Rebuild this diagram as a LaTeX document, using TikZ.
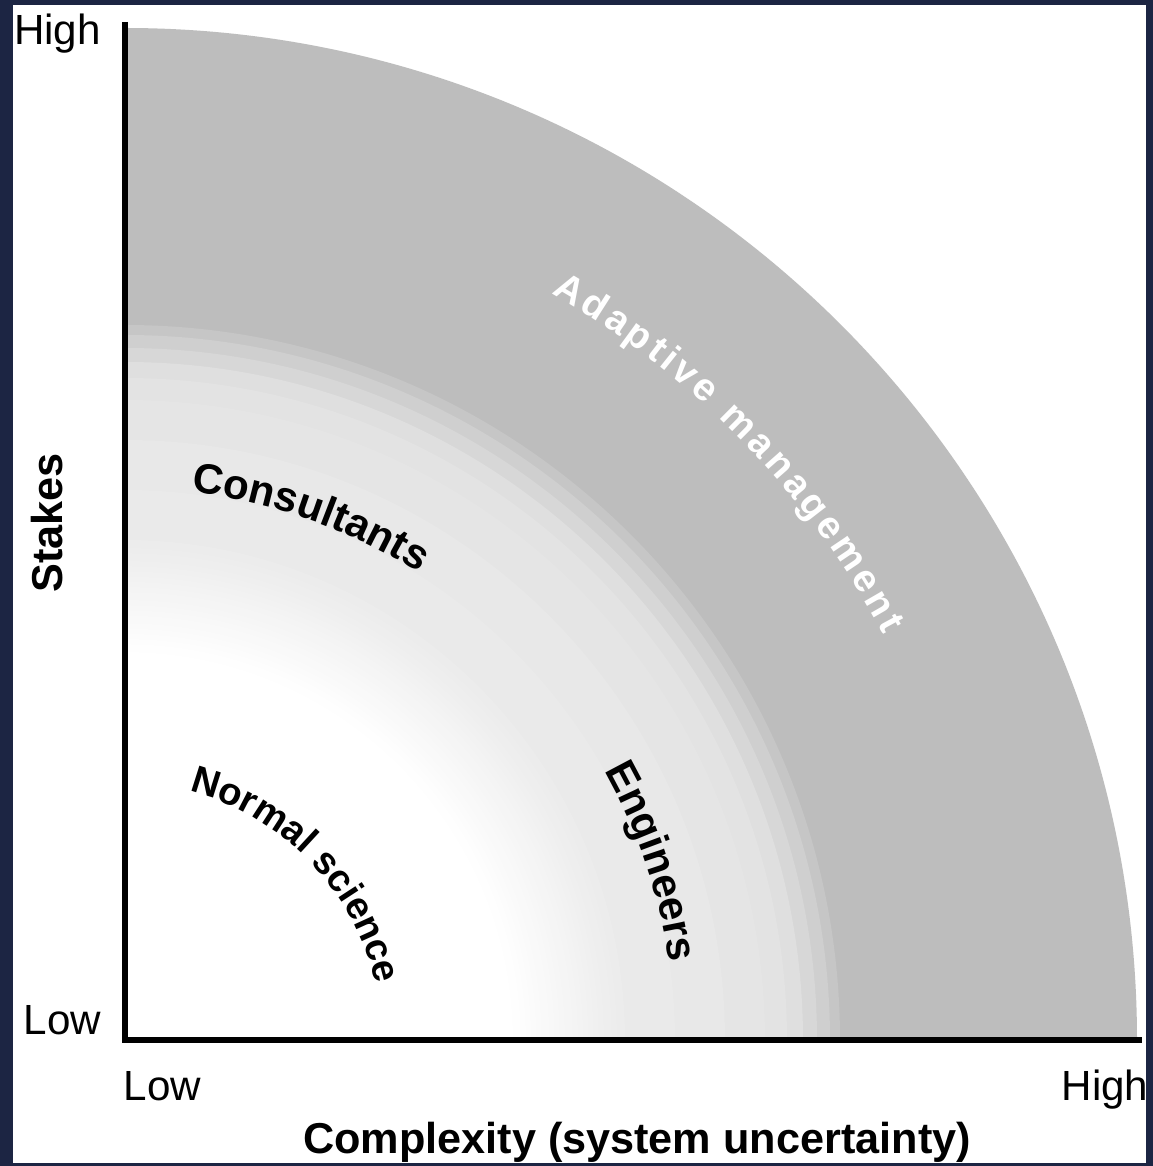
\documentclass[tikz,border=0pt]{standalone}
\usepackage{fontspec}
\setmainfont{Liberation Sans}
\usetikzlibrary{decorations.text}

\definecolor{FrameNavy}{HTML}{1C2543}
\definecolor{OuterGray}{HTML}{BDBDBD}

\newcommand{\zonefont}{\fontsize{12}{14}\selectfont\bfseries}
\newcommand{\adaptfont}{\fontsize{11}{13}\selectfont\bfseries}
% quarter disc of radius #2 round the origin, filled with #1
\newcommand{\qdisc}[2]{\fill[#1] (0,0) -- (#2,0) arc[start angle=0, end angle=90, radius=#2] -- cycle;}

\tikzset{
  axisLine/.style={line width=1.5pt, draw=black},
  tickLbl/.style={font=\fontsize{12}{14}\selectfont, anchor=base, inner sep=0pt},
  axisLbl/.style={font=\fontsize{12.3}{14}\selectfont\bfseries, anchor=base, inner sep=0pt},
  ringLbl/.style={decorate, decoration={text along path, text align=center,
    text={|\zonefont|#1}}},
}

\begin{document}
\begin{tikzpicture}

  % frame and white panel
  \fill[FrameNavy] (-1.25,-1.26) rectangle (10.28,10.40);
  \fill[white] (-1.12,-1.23) rectangle (10.21,10.35);
  \useasboundingbox (-1.25,-1.26) rectangle (10.28,10.40);

  % zones, outside in
  \qdisc{OuterGray}{10.12}
  \foreach \r/\k in {7.15/22.5, 7.05/19, 6.92/15.5, 6.78/12.5, 6.62/11, 6.4/10, 6.0/9, 5.5/8.2, 5.0/7.5}
    {\qdisc{black!\k}{\r}}
  \foreach \i [evaluate=\i as \k using 7.2*(1-\i/40), evaluate=\i as \r using 4.92-\i*0.026] in {0,...,40}
    {\qdisc{black!\k}{\r}}

  % axes
  \coordinate (origin) at (0,0);
  \coordinate (yTop) at (0,10.18);
  \coordinate (xEnd) at (10.17,0);
  \draw[axisLine] (yTop) -- (origin) -- (xEnd);

  \node[tickLbl] (yHigh) at (-0.675,9.95) {High};
  \node[tickLbl] (yLow) at (-0.625,0.06) {Low};
  \node[tickLbl] (xLow) at (0.375,-0.60) {Low};
  \node[tickLbl] (xHigh) at (9.80,-0.60) {High};
  \node[axisLbl] (xTitle) at (5.12,-1.13) {Complexity (system uncertainty)};
  \node[axisLbl, rotate=90] (yTitle) at (-0.63,5.17) {Stakes};

  % labels along the rings
  \path[ringLbl={|\fontsize{10.9}{13}\selectfont\bfseries|Normal science}]
    (84:2.57) arc[start angle=84, end angle=4, radius=2.57];
  \path[ringLbl=Consultants] (90:5.52) arc[start angle=90, end angle=50.9, radius=5.52];
  \path[ringLbl=Engineers] (38.7:5.5) arc[start angle=38.7, end angle=-1.3, radius=5.5];
  \path[decorate, decoration={text effects along path, text={Adaptive management}, text align=center,
      text effects/.cd, text along path, character widths={inner xsep=0.55pt, font=\adaptfont},
      characters={text=white, font=\adaptfont, inner sep=0pt, anchor=base}}]
    (64.2:8.6) arc[start angle=64.2, end angle=24.2, radius=8.6];

\end{tikzpicture}
\end{document}
